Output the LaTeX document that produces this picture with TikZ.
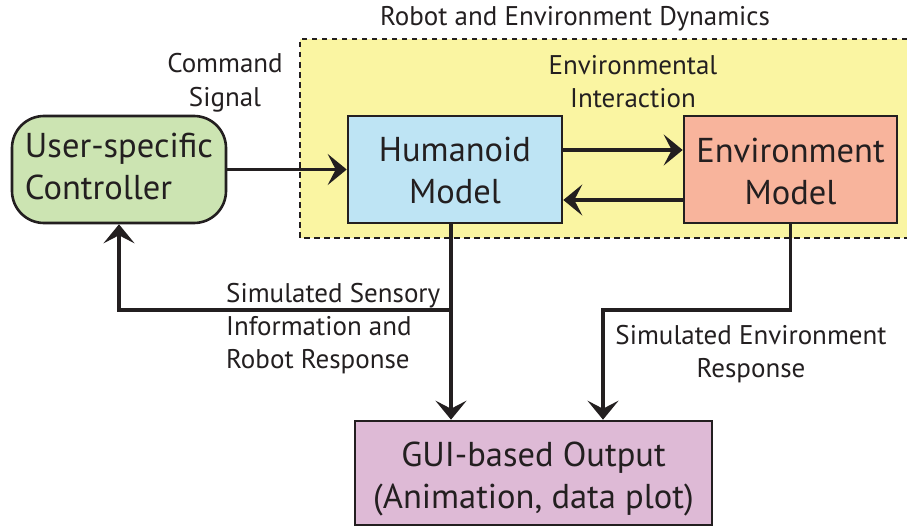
\documentclass[tikz,border=0pt]{standalone}
\usepackage{fontspec}
\setmainfont{PT Sans}
\usetikzlibrary{arrows.meta,calc}
\definecolor{ink}{HTML}{231F20}
\definecolor{dynbg}{HTML}{FAF5A2}
\definecolor{ctrlbg}{HTML}{CCE4B2}
\definecolor{humbg}{HTML}{BEE4F4}
\definecolor{envbg}{HTML}{F8B49C}
\definecolor{guibg}{HTML}{DEBAD6}
\tikzset{
  blk/.style={draw=ink, line width=2.6pt, inner sep=0pt, align=center, text=ink,
    text depth=0pt, font=\fontsize{34.5}{42}\selectfont},
  lbl/.style={inner sep=0pt, text=ink, font=\fontsize{27}{33}\selectfont},
  arr/.style={draw=ink, line width=3.8pt, -{Stealth[length=19pt,width=31pt,inset=8pt]}},
}
\begin{document}
\begin{tikzpicture}[x=1pt,y=-1pt]
\useasboundingbox (0,0) rectangle (907,527);
% dynamics region
\fill[dynbg] (300,39) rectangle (907,238);
\draw[ink, line width=2pt, dash pattern=on 5.5pt off 4.5pt] (907,39) -- (300,39) -- (300,238) -- (907,238);
\node[lbl, anchor=base] (title) at (575,26) {Robot and Environment Dynamics};
% blocks
\node[blk, align=left, text height=59pt, fill=ctrlbg, rounded corners=32pt, minimum width=214pt, minimum height=107pt] (ctrl) at (119,169.5) {User-specific\\Controller};
\node[blk, text height=67pt, fill=humbg, minimum width=214pt, minimum height=107pt] (hum) at (455,169.5) {Humanoid\\Model};
\node[blk, text height=69pt, fill=envbg, minimum width=213pt, minimum height=107pt] (env) at (790.5,169.5) {Environment\\Model};
\node[blk, text height=70pt, fill=guibg, minimum width=357pt, minimum height=104pt] (gui) at (533.5,473) {GUI-based Output\\(Animation, data plot)};
% labels
\node[lbl, align=center, anchor=base] (cmd) at (225,106) {Command\\Signal};
\node[lbl, align=center, anchor=base] (inter) at (633,107) {Environmental\\Interaction};
\node[lbl, align=left, anchor=base west] (sens) at (226,368) {Simulated Sensory\\Information and\\Robot Response};
\node[lbl, align=center, anchor=base] (envresp) at (751,377) {Simulated Environment\\Response};
% connectors
\draw[arr] (ctrl.east) -- (hum.west);
\draw[arr] ([yshift=19.5pt]hum.east) -- ([yshift=19.5pt]env.west);
\draw[arr] ([yshift=-30.5pt]env.west) -- ([yshift=-30.5pt]hum.east);
\coordinate (split) at ($(hum.south)+(-4,0)$);
\coordinate (jn) at (split |- 0,310);
\draw[arr] (split) -- (split |- gui.north);
\draw[arr] (jn) -- (jn -| ctrl.south) -- (ctrl.south);
\coordinate (ed) at (env.south);
\coordinate (ej) at (ed |- 0,310);
\coordinate (gj) at (603,310);
\draw[arr] (ed) -- (ej) -- (gj) -- (gj |- gui.north);
\end{tikzpicture}
\end{document}
